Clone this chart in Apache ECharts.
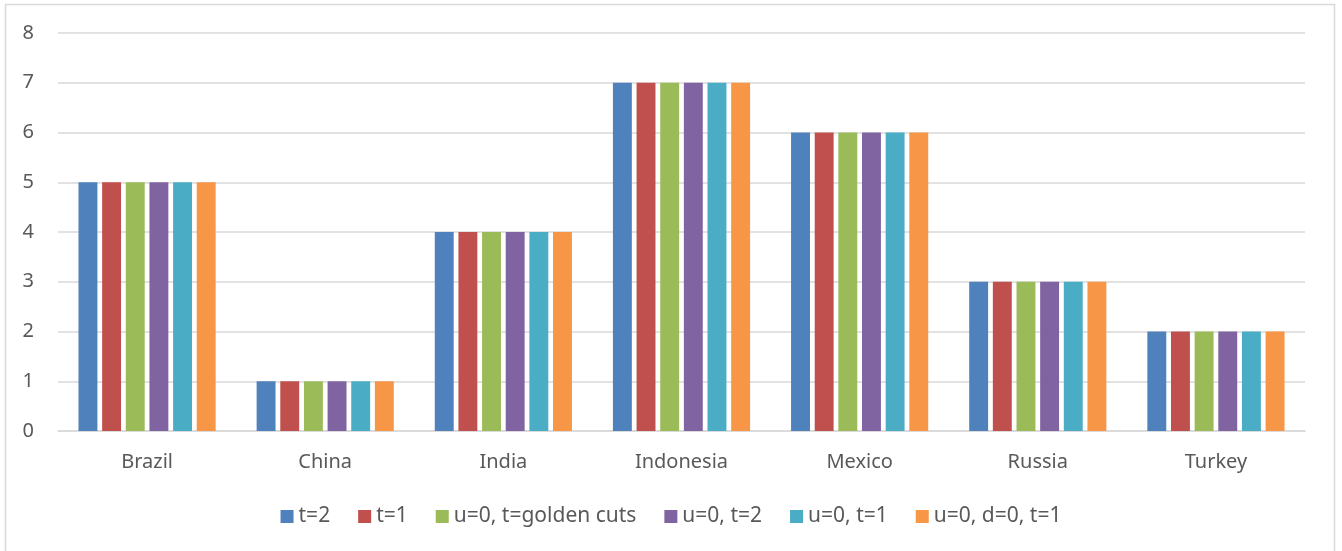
<!DOCTYPE html>
<html>
<head>
<meta charset="utf-8">
<script src="https://cdn.jsdelivr.net/npm/echarts@6/dist/echarts.min.js"></script>
<style>
  html, body { margin: 0; padding: 0; background: #fff; }
  #chart { width: 1342px; height: 551px; }
</style>
</head>
<body>
<div id="chart"></div>
<script>
// Countries on the x axis
const categories = ['Brazil', 'China', 'India', 'Indonesia', 'Mexico', 'Russia', 'Turkey'];

// One array per method
const seriesNames = ['t=2', 't=1', 'u=0, t=golden cuts', 'u=0, t=2', 'u=0, t=1', 'u=0, d=0, t=1'];
const valuesT2        = [5, 1, 4, 7, 6, 3, 2];
const valuesT1        = [5, 1, 4, 7, 6, 3, 2];
const valuesGolden    = [5, 1, 4, 7, 6, 3, 2];
const valuesU0T2      = [5, 1, 4, 7, 6, 3, 2];
const valuesU0T1      = [5, 1, 4, 7, 6, 3, 2];
const valuesU0D0T1    = [5, 1, 4, 7, 6, 3, 2];

const allValues = [valuesT2, valuesT1, valuesGolden, valuesU0T2, valuesU0T1, valuesU0D0T1];
const colors = ['#4F81BD', '#C0504D', '#9BBB59', '#8064A2', '#4BACC6', '#F79646'];

const fontFamily = 'Noto Sans, sans-serif';
const textColor = '#595959';

const chart = echarts.init(document.getElementById('chart'));
chart.setOption({
  animation: false,
  color: colors,
  graphic: [{
    type: 'rect',
    shape: { x: 5.5, y: 4.5, width: 1329, height: 560 },
    style: { fill: 'none', stroke: '#d9d9d9', lineWidth: 1.5 },
    silent: true
  }],
  grid: { left: 58, right: 37, top: 33, bottom: 120 },
  legend: {
    bottom: 19,
    left: 'center',
    itemWidth: 13,
    itemHeight: 13,
    itemGap: 28,
    icon: 'rect',
    textStyle: { color: textColor, fontSize: 21, fontFamily: fontFamily },
    data: seriesNames
  },
  xAxis: {
    type: 'category',
    data: categories,
    axisLine: { lineStyle: { color: '#d9d9d9', width: 1.5 } },
    axisTick: { show: false },
    axisLabel: { color: textColor, fontSize: 20, fontFamily: fontFamily, margin: 21 }
  },
  yAxis: {
    type: 'value',
    min: 0,
    max: 8,
    interval: 1,
    axisLine: { show: false },
    axisTick: { show: false },
    splitLine: { lineStyle: { color: '#d9d9d9', width: 1.5 } },
    axisLabel: { color: textColor, fontSize: 20, fontFamily: fontFamily, margin: 24 }
  },
  series: seriesNames.map((name, i) => ({
    name: name,
    type: 'bar',
    data: allValues[i],
    barGap: '25%',
    barCategoryGap: '23%',
    itemStyle: { color: colors[i] }
  }))
});
</script>
</body>
</html>
